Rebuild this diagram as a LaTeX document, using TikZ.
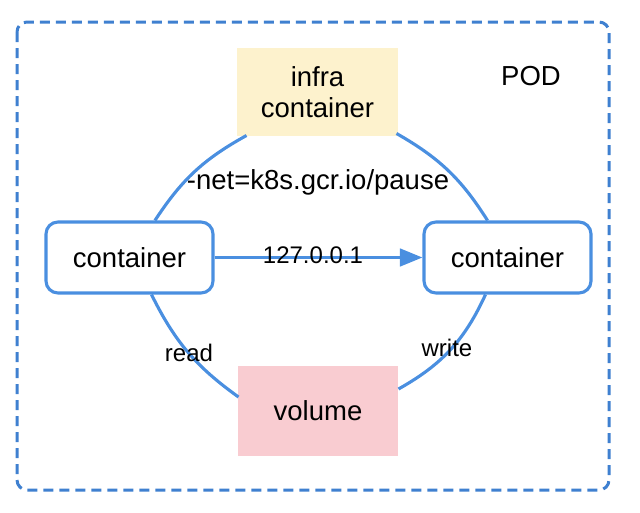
\documentclass[tikz,border=0pt]{standalone}
\usepackage{fontspec}
\setmainfont{Liberation Sans}
\usetikzlibrary{arrows.meta,calc}
\definecolor{lineblue}{HTML}{4A8FE0}
\definecolor{dashblue}{HTML}{3F80D0}
\definecolor{infrafill}{HTML}{FDF2CD}
\definecolor{volfill}{HTML}{F9CCD1}
\tikzset{
  box/.style={draw=lineblue, line width=1.25pt, rounded corners=4.8pt, fill=white, font=\fontsize{11}{13}\selectfont, inner sep=0pt},
  plainbox/.style={draw=none, inner sep=0pt, font=\fontsize{11}{12.4}\selectfont, align=center},
  conn/.style={draw=lineblue, line width=1.25pt},
  lbl/.style={font=\fontsize{9.6}{11}\selectfont, inner sep=0pt},
  bigl/.style={font=\fontsize{11}{13}\selectfont, inner sep=0pt}
}
\begin{document}
\begin{tikzpicture}[x=0.4pt,y=-0.4pt]
\useasboundingbox (0,0) rectangle (640,513);
\draw[draw=dashblue, line width=1.2pt, dash pattern=on 4pt off 2.4pt, rounded corners=4pt] (17,22) rectangle (609,490);
\node[plainbox, fill=infrafill, minimum width=64.4pt, minimum height=35.2pt] (infra) at (317.5,92) {infra\\container};
\node[plainbox, fill=volfill, minimum width=64pt, minimum height=36pt] (vol) at (318,411) {volume};
\node[box, minimum width=66.8pt, minimum height=28.4pt] (left) at (129.5,257.5) {container};
\node[box, minimum width=66.8pt, minimum height=28.4pt] (right) at (507.5,257.5) {container};
\node[bigl] (pod) at (531,76) {POD};
\draw[conn] ($(infra.south west)+(10,-1)$) to[bend right=14] ($(left.north)+(25.5,0)$);
\draw[conn] ($(infra.south east)+(-2,-3)$) to[bend left=14] ($(right.north)+(-20,0)$);
\draw[conn] ($(left.south)+(22,0)$) to[bend right=14] ($(vol.west)+(1,-14)$);
\draw[conn] ($(right.south)+(-22,0)$) to[bend left=18] ($(vol.east)+(0,-22)$);
\draw[conn, -{Triangle[length=9pt,width=7pt]}] (left.east) -- (right.west);
\node[bigl] (net) at (318,182) {-net=k8s.gcr.io/pause};
\node[lbl] (ip) at (313,255) {127.0.0.1};
\node[lbl] (read) at (189,353) {read};
\node[lbl] (write) at (447,348) {write};
\end{tikzpicture}
\end{document}
